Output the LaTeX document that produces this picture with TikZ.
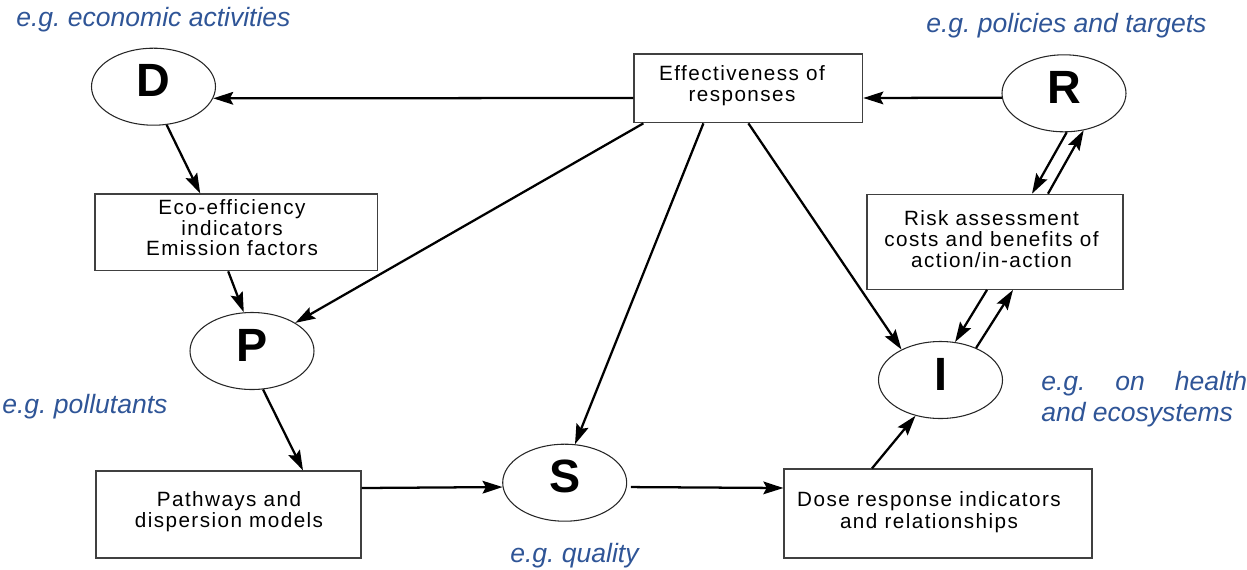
\documentclass[tikz,border=0pt]{standalone}
\usepackage{fontspec}
\setmainfont{Liberation Sans}
\usetikzlibrary{arrows.meta,calc,shapes.geometric}
\definecolor{egblue}{RGB}{47,85,151}
\frenchspacing

\begin{document}
\begin{tikzpicture}[x=0.75pt,y=-0.75pt,
  box/.style={draw=black!75, line width=0.9pt, rectangle, inner sep=0pt},
  oval/.style={draw=black!85, line width=0.8pt, ellipse, inner sep=0pt,
    minimum width=93pt, minimum height=57.75pt},
  boxtext/.style={align=center, inner sep=0pt,
    font=\fontsize{15.5}{16}\selectfont\addfontfeatures{LetterSpace=7}},
  letter/.style={inner sep=0pt, font=\fontsize{35}{40}\selectfont\bfseries},
  note/.style={inner sep=0pt, anchor=base west, text=egblue,
    font=\fontsize{19.9}{24}\selectfont\itshape},
  arr/.style={line width=1.7pt, -{Stealth[length=15pt,width=9.5pt,inset=2.5pt]}}]

\useasboundingbox (0,0) rectangle (1247,569);

% boxes
\node[box, minimum width=171.5pt, minimum height=51.5pt]  (eff)  at (748.4,88.4) {};
\node[box, minimum width=211.7pt, minimum height=57.5pt]  (eco)  at (236.2,232.4) {};
\node[box, minimum width=192pt,   minimum height=71.25pt] (risk) at (995,241.8) {};
\node[box, minimum width=198.75pt,minimum height=65.25pt] (path) at (228.5,514.5) {};
\node[box, minimum width=231pt,   minimum height=66.75pt] (dose) at (938,513.5) {};

\node[boxtext] (efft)  at (742,85.5)  {Effectiveness of\\responses};
\node[boxtext, font=\fontsize{15.5}{15.4}\selectfont\addfontfeatures{LetterSpace=7}]
               (ecot)  at (232,227.8) {Eco-efficiency\\indicators\\Emission factors};
\node[boxtext] (riskt) at (991.5,239) {Risk assessment\\costs and benefits of\\action/in-action};
\node[boxtext] (patht) at (229,511.5) {Pathways and\\dispersion models};
\node[boxtext] (doset) at (929,512)   {Dose response indicators\\and relationships};

% DPSIR ellipses
\node[oval] (D) at (153.5,86.7) {};
\node[oval] (P) at (252,351)    {};
\node[oval] (S) at (564.7,482.7) {};
\node[oval] (I) at (940.5,380)  {};
\node[oval] (R) at (1064,93.3)  {};

\node[letter] (Dl) at ($(D)+(0,-6)$) {D};
\node[letter] (Pl) at ($(P)+(0,-6)$) {P};
\node[letter] (Sl) at ($(S)+(0,-6)$) {S};
\node[letter] (Il) at ($(I)+(0,-6)$) {I};
\node[letter] (Rl) at ($(R)+(0,-6)$) {R};

% examples
\node[note] (n1) at (16,26)    {e.g. economic activities};
\node[note] (n2) at (926,32.5) {e.g. policies and targets};
\node[note] (n3) at (2,413)    {e.g. pollutants};
\node[note] (n4) at (510,562)  {e.g. quality};
\node[note] (n5) at (1041,390) {\makebox[154.5pt][s]{e.g. on health}};
\node[note] (n6) at (1041,421.7) {and ecosystems};

% connectors
\draw[arr] ($(eff.west)+(0,9.6)$) -- (D.-11);
\draw[arr] (R.184.4) -- ($(eff.east)+(0,9.6)$);
\draw[arr] (D.-71) -- ($(eco.north)+(-36,0)$);
\draw[arr] ($(eco.south)+(-8,0)$) -- (P.102);
\draw[arr] ($(eff.south)+(-105,0)$) -- (P.33);
\draw[arr] ($(eff.south)+(-45,0)$) -- (S.75);
\draw[arr] (eff.south) -- (I.142);
\draw[arr] (P.-74.5) -- ($(path.north)+(74.5,0)$);
\draw[arr] ($(path.east)+(0,-26.5)$) -- (S.184.9);
\draw[arr, shorten <=3pt] (S.-4.9) -- ($(dose.west)+(0,-25.5)$);
\draw[arr] ($(dose.north)+(-66,0)$) -- (I.235.6);
\draw[arr] ($(risk.south)+(-8,0)$) -- (I.69.3);
\draw[arr] (I.42.6) -- ($(risk.south)+(18,0)$);
\draw[arr] (R.-86) -- ($(risk.north)+(37,0)$);
\draw[arr] ($(risk.north)+(53,0)$) -- (R.-62.7);

\end{tikzpicture}
\end{document}
